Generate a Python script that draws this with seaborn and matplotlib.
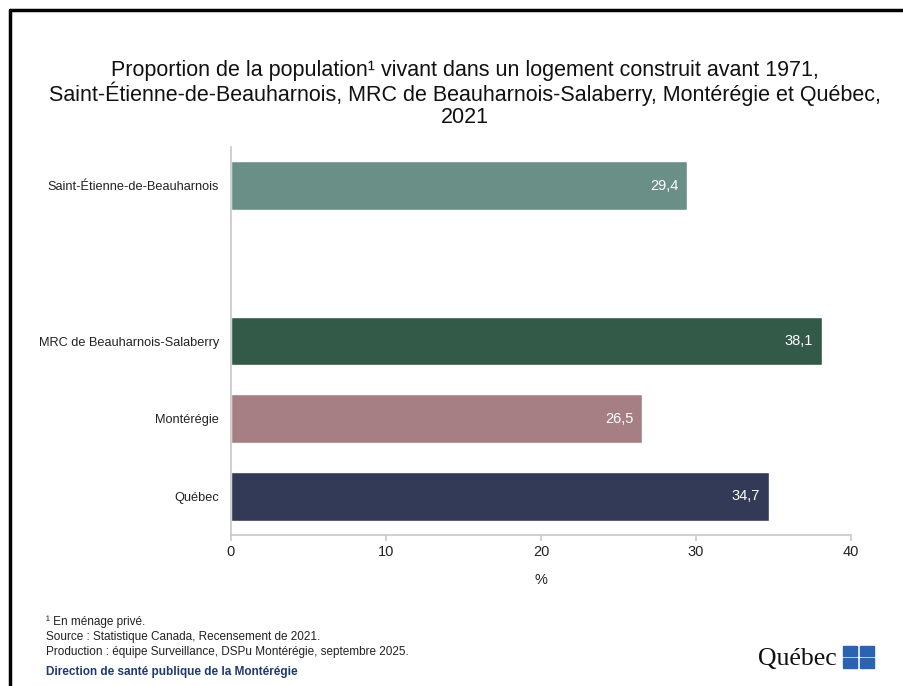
import matplotlib
matplotlib.use("Agg")
import matplotlib.pyplot as plt
import seaborn as sns
import pandas as pd
from matplotlib.patches import Rectangle
from matplotlib.lines import Line2D

# data
regions = ["Saint-Étienne-de-Beauharnois", "MRC de Beauharnois-Salaberry", "Montérégie", "Québec"]
values = [29.4, 38.1, 26.5, 34.7]
colors = ["#6a8f87", "#335a48", "#a67f84", "#323a57"]
xticks = [0, 10, 20, 30, 40]

title = ("Proportion de la population¹ vivant dans un logement construit avant 1971,\n"
         "Saint-Étienne-de-Beauharnois, MRC de Beauharnois-Salaberry, Montérégie et Québec,\n"
         "2021")
notes = ["¹ En ménage privé.",
         "Source : Statistique Canada, Recensement de 2021.",
         "Production : équipe Surveillance, DSPu Montérégie, septembre 2025."]

sns.set_theme(style="white")
plt.rcParams['font.family'] = ['Liberation Sans', 'DejaVu Sans']

df = pd.DataFrame({"region": regions, "val": values})
order = [regions[0], " ", regions[1], regions[2], regions[3]]  # blank slot after the municipality

fig = plt.figure(figsize=(9.04, 6.86), dpi=100)
ax = fig.add_axes([0.2555, 0.2201, 0.6859, 0.5656])
sns.barplot(data=df, x="val", y="region", order=order, hue="region", hue_order=regions,
            palette=colors, width=0.63, legend=False, ax=ax, saturation=1)

for p, v in zip([0, 2, 3, 4], values):
    ax.text(v - 0.55, p, f"{v:.1f}".replace(".", ","), color="white", ha="right", va="center",
            fontsize=10.5)

ax.set_xlim(0, 40)
ax.set_ylim(4.5, -0.5)
ax.set_xticks(xticks)
ax.set_xticklabels([str(t) for t in xticks], fontsize=10.5, color="#222222")
ax.set_yticks([0, 2, 3, 4])
ax.set_yticklabels(regions, fontsize=9.2, color="#222222")
ax.set_xlabel("%", fontsize=10.5, labelpad=10, color="#222222")
ax.set_ylabel("")
sns.despine(ax=ax, top=True, right=True)
for s in ["left", "bottom"]:
    ax.spines[s].set_color("#c8c8c8")
    ax.spines[s].set_linewidth(1.2)
ax.tick_params(axis="x", length=4, color="#c8c8c8", width=1.2, pad=3, bottom=True)
ax.tick_params(axis="y", length=0, pad=8.5)

fig.text(0.514, 0.863, title, ha="center", va="center", fontsize=15.5, linespacing=1.02, color="#111111")

ys = [0.093, 0.071, 0.049]
for t, y in zip(notes, ys):
    fig.text(0.051, y, t, fontsize=8.5, color="#222222", va="center")
fig.text(0.051, 0.021, "Direction de santé publique de la Montérégie", fontsize=8.5,
         color="#1f3a6e", va="center", weight="bold")

# Québec signature
fig.text(0.838, 0.040, "Québec", fontsize=18.5, family=['Liberation Serif', 'DejaVu Serif'],
         color="#111111", va="center")
for dx in (0, 1):
    for dy in (0, 1):
        fig.patches.append(Rectangle((0.9325 + dx * 0.0185, 0.0265 + dy * 0.0175), 0.016, 0.0145,
                                     transform=fig.transFigure, color="#2a63b0"))

# frame
fig.lines.append(Line2D([0.011, 0.011], [0.0, 0.985], transform=fig.transFigure, color="black", lw=2.5))
fig.lines.append(Line2D([0.011, 1.0], [0.985, 0.985], transform=fig.transFigure, color="black", lw=2.5))

fig.savefig("out.png", dpi=100)
